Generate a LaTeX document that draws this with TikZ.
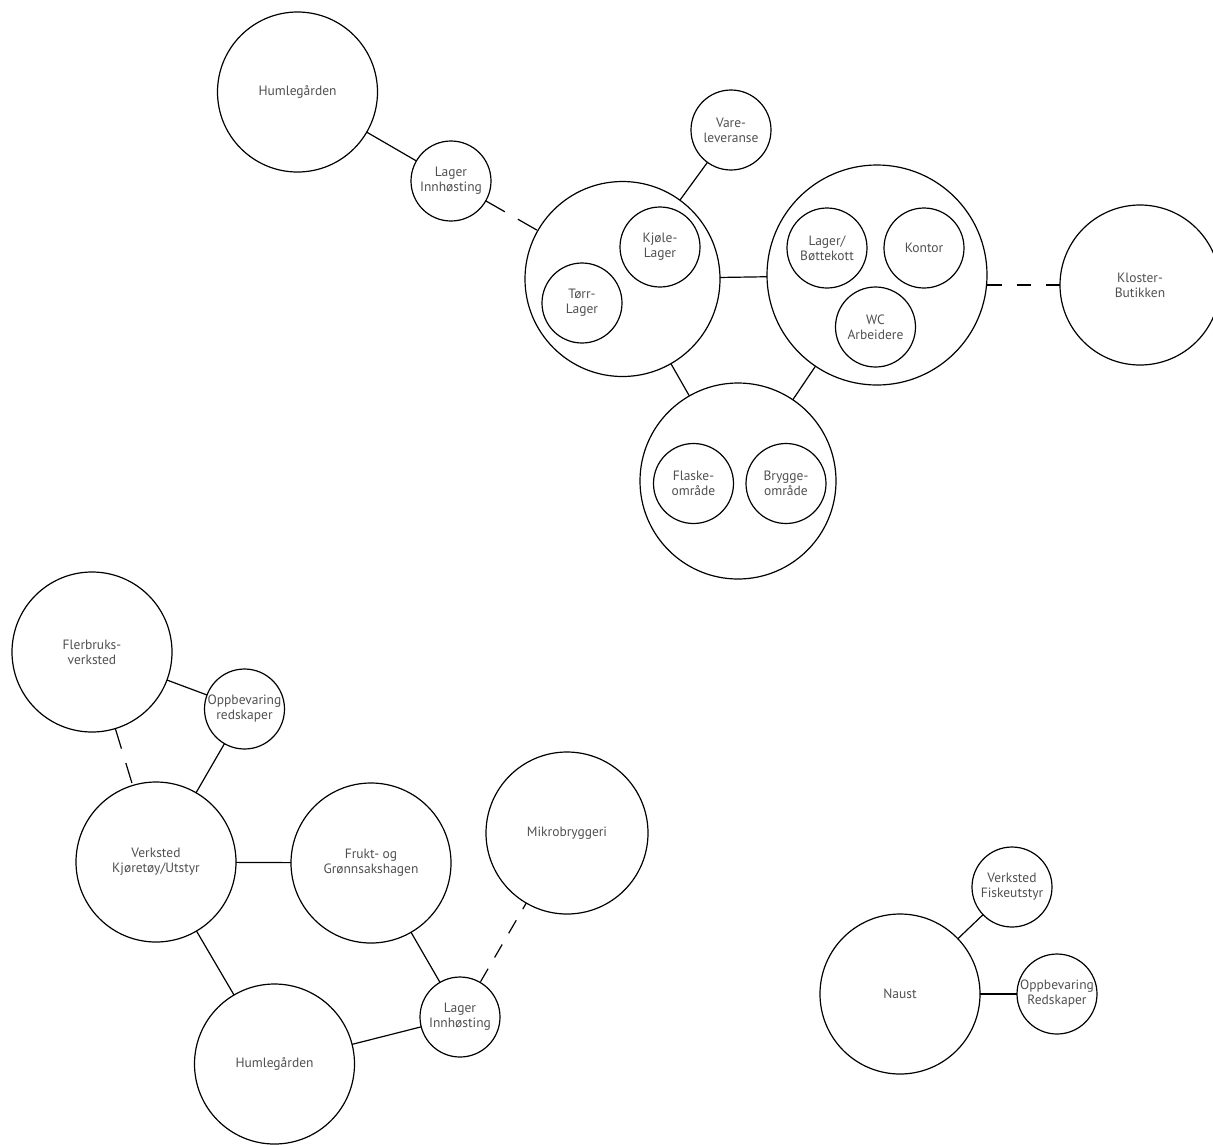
\documentclass[tikz,border=0pt]{standalone}
\usepackage{fontspec}
\setmainfont{PT Sans}
\definecolor{txtgrey}{HTML}{505050}
\begin{document}
\begin{tikzpicture}[x=1pt,y=-1pt,
  bub/.style={circle,draw=black,line width=1.2pt,minimum size=#1,inner sep=0pt,outer sep=0pt},
  lab/.style={align=center,text=txtgrey,font=\fontsize{13.5}{15}\selectfont,inner sep=0pt},
  con/.style={draw=black,line width=1.2pt}]
\useasboundingbox (0,0) rectangle (1213,1144);

% top group
\node[bub=160, label={[lab]center:Humlegården}] (humA) at (297.5,92) {};
\node[bub=80, label={[lab]center:Lager\\Innhøsting}] (lagA) at (451,181) {};
\node[bub=80, label={[lab]center:Vare-\\leveranse}] (vare) at (731,130) {};
\node[bub=195] (stor) at (622.5,279) {};
\node[bub=80, label={[lab]center:Kjøle-\\Lager}] (kjole) at (660,247) {};
\node[bub=80, label={[lab]center:Tørr-\\Lager}] (torr) at (582,303) {};
\node[bub=220] (office) at (877,275) {};
\node[bub=80, label={[lab]center:Lager/\\Bøttekott}] (lagb) at (827,248) {};
\node[bub=80, label={[lab]center:Kontor}] (kontor) at (924,248) {};
\node[bub=80, label={[lab]center:WC\\Arbeidere}] (wc) at (875.5,327) {};
\node[bub=160, label={[lab]center:Kloster-\\Butikken}] (klost) at (1140,285) {};
\node[bub=196] (brew) at (738,481) {};
\node[bub=80, label={[lab]center:Flaske-\\område}] (flaske) at (693.5,483.5) {};
\node[bub=80, label={[lab]center:Brygge-\\område}] (brygge) at (786,483.5) {};

\draw[con] (humA) -- (lagA);
\draw[con, dash pattern=on 22pt off 15pt] (lagA) -- (stor);
\draw[con] (vare) -- (stor);
\draw[con] (stor) -- (office);
\draw[con] (stor) -- (brew);
\draw[con] (office) -- (brew);
\draw[con, dash pattern=on 14.5pt off 15pt] (klost.west -| office.east) -- (klost.west);

% bottom left group
\node[bub=160, label={[lab]center:Flerbruks-\\verksted}] (flerb) at (92,652) {};
\node[bub=80, label={[lab]center:Oppbevaring\\redskaper}] (oppA) at (244.5,709) {};
\node[bub=160, label={[lab]center:Verksted\\Kjøretøy/Utstyr}] (verk) at (156,862) {};
\node[bub=160, label={[lab]center:Frukt- og\\Grønnsakshagen}] (frukt) at (371,863) {};
\node[bub=162, label={[lab]center:Mikrobryggeri}] (mikro) at (567,833) {};
\node[bub=80, label={[lab]center:Lager\\Innhøsting}] (lagB) at (460,1017) {};
\node[bub=160, label={[lab]center:Humlegården}] (humB) at (274.5,1064) {};

\draw[con] (flerb) -- (oppA);
\draw[con, dash pattern=on 21pt off 15pt] (flerb) -- (verk);
\draw[con] (oppA) -- (verk);
\draw[con] (verk) -- (frukt);
\draw[con] (verk) -- (humB);
\draw[con] (frukt) -- (lagB);
\draw[con] (humB) -- (lagB);
\draw[con, dash pattern=on 15pt off 13pt, dash phase=8pt] (mikro) -- (lagB);

% bottom right group
\node[bub=160, label={[lab]center:Naust}] (naust) at (900,994) {};
\node[bub=80, label={[lab]center:Verksted\\Fiskeutstyr}] (verkF) at (1012,887) {};
\node[bub=80, label={[lab]center:Oppbevaring\\Redskaper}] (oppB) at (1057,994) {};

\draw[con] (naust) -- (verkF);
\draw[con] (naust) -- (oppB);
\end{tikzpicture}
\end{document}
